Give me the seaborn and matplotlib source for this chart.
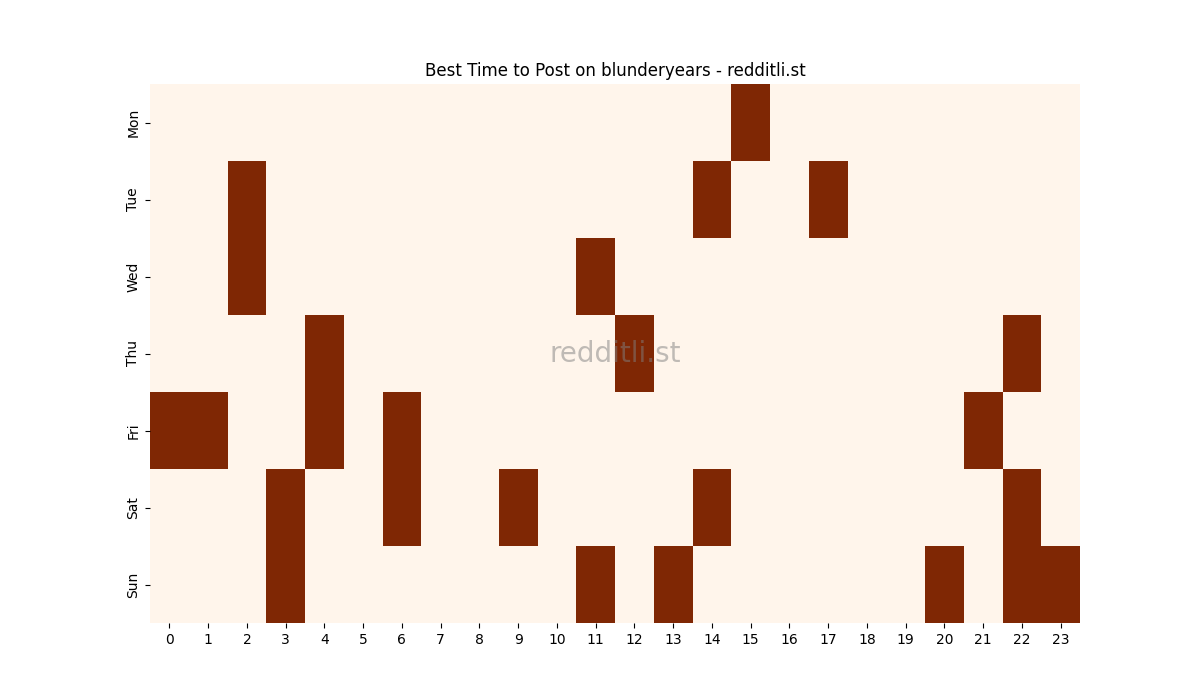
import numpy as np
import pandas as pd
import seaborn as sns
import matplotlib.pyplot as plt

# === DANE ===
days = ["Mon", "Tue", "Wed", "Thu", "Fri", "Sat", "Sun"]
hours = list(range(24))

# godziny oznaczone jako "najlepsze" dla kazdego dnia
best_mon = [15]
best_tue = [2, 14, 17]
best_wed = [2, 11]
best_thu = [4, 12, 22]
best_fri = [0, 1, 4, 6, 21]
best_sat = [3, 6, 9, 14, 22]
best_sun = [3, 11, 13, 20, 22, 23]

best_by_day = [best_mon, best_tue, best_wed, best_thu, best_fri, best_sat, best_sun]

grid = np.zeros((len(days), len(hours)))
for i, best in enumerate(best_by_day):
    grid[i, best] = 1

df = pd.DataFrame(grid, index=days, columns=hours)

# === WYKRES ===
fig, ax = plt.subplots(figsize=(12, 7), dpi=100)
sns.heatmap(df, cmap="Oranges", cbar=False, ax=ax)
ax.set_title("Best Time to Post on blunderyears - redditli.st")
ax.set_xlabel("")
ax.set_ylabel("")
ax.text(0.5, 0.5, "redditli.st", transform=ax.transAxes, ha="center", va="center",
        fontsize=20, color="grey", alpha=0.5)

plt.savefig("out.png")
plt.close()
